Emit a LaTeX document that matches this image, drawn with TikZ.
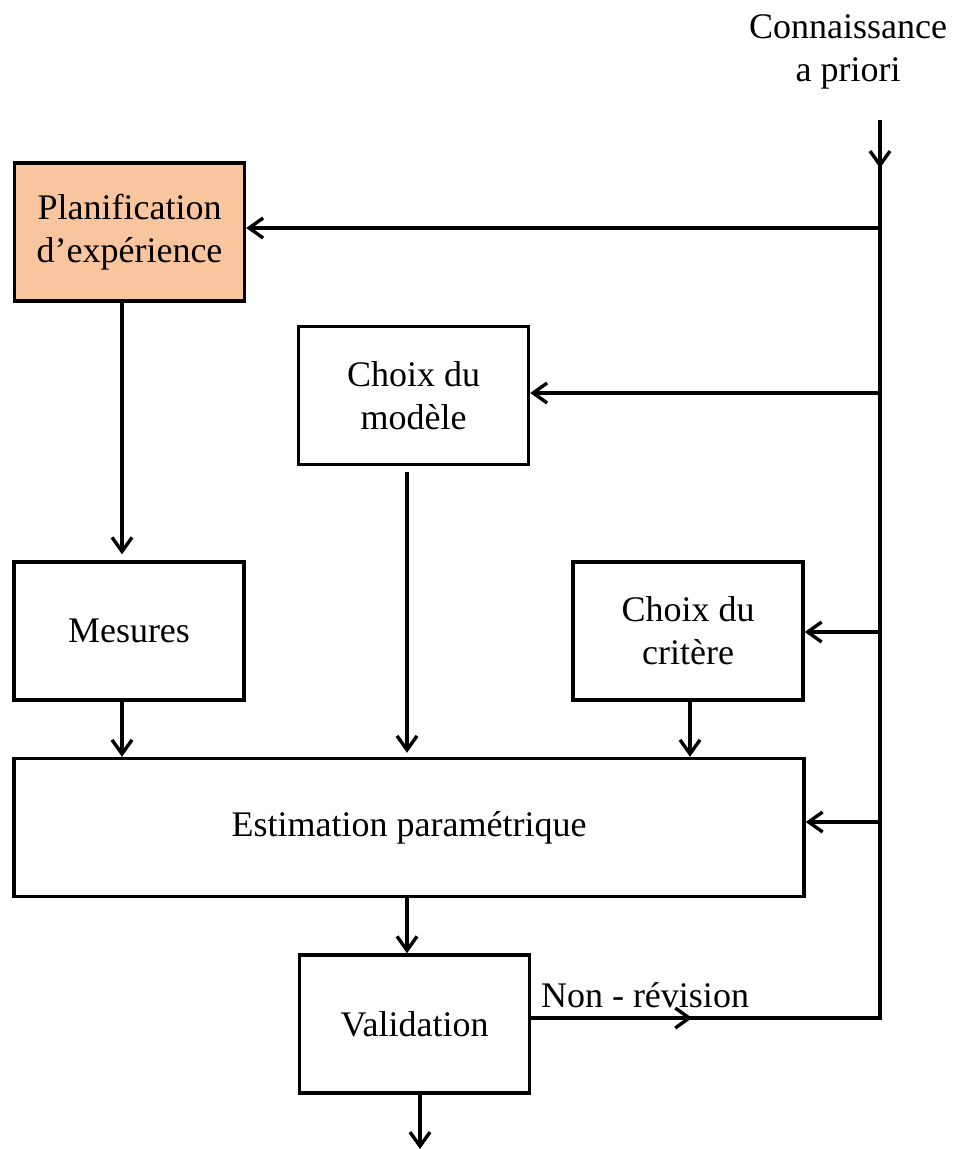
\documentclass[tikz,border=0pt]{standalone}
\usepackage{fontspec}
\setmainfont{Liberation Serif}
\usetikzlibrary{arrows.meta, positioning}
\definecolor{planfill}{RGB}{249,197,158}
\tikzset{>={Straight Barb[length=7pt,width=10pt]}}
\tikzset{bloc/.style={draw, line width=1.7pt, minimum width=115pt, minimum height=69pt, align=center, inner sep=0pt}}

\begin{document}
\begin{tikzpicture}[x=0.5pt, y=-0.5pt, line width=1.7pt, font=\fontsize{18}{21.5}\selectfont]
		\useasboundingbox (0,0) rectangle (954,1149);
		\node [align=center] (conn) at (848,52) {Connaissance\\a priori};
		\node [bloc, fill=planfill] (plan) at (129.5,232) {Planification\\d’expérience};
		\node [bloc] (modele) at (413.5,395.5) {Choix du\\modèle};
		\node [bloc] (mesures) at (129,631) {Mesures};
		\node [bloc] (critere) at (688,631) {Choix du\\critère};
		\node [bloc, minimum width=395pt] (estim) at (409,827.5) {Estimation paramétrique};
		\node [bloc] (valid) at (414.5,1024) {Validation};
		\node (nonrev) at (645,995) {Non - révision};
		
		\coordinate (src) at (880,120);
		\coordinate (bas) at (880,1018);
		\coordinate (fin) at (420,1149);
		\draw (valid.east |- bas) -- (bas) -- (src);
		\draw[->] (src) -- ++(0,48);
		\draw[->] (valid.east |- bas) -- ++(161,0);
		
		\draw[->] (880,228) -- (plan.east |- 880,228);
		\draw[->] (880,393) -- (modele.east |- 880,393);
		\draw[->] (880,632) -- (critere.east |- 880,632);
		\draw[->] (880,822) -- (estim.east |- 880,822);
		
		\draw[->, shorten >=3pt] (plan.south -| 122,0) -- (mesures.north -| 122,0);
		\draw[->, shorten <=3pt, shorten >=2pt] (modele.south -| 407,0) -- (estim.north -| 407,0);
		\draw[->] (mesures.south -| 122,0) -- (estim.north -| 122,0);
		\draw[->] (critere.south -| 690,0) -- (estim.north -| 690,0);
		\draw[->] (estim.south -| 407,0) -- (valid.north -| 407,0);
		\draw[->] (valid.south -| fin) -- (fin);
\end{tikzpicture}
\end{document}
